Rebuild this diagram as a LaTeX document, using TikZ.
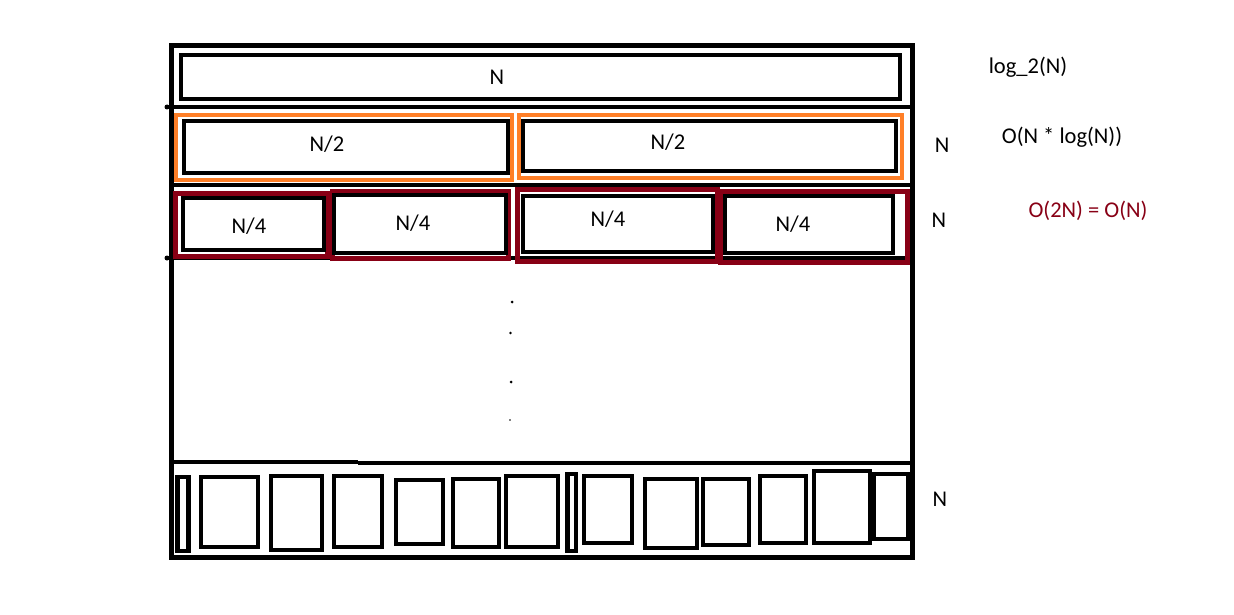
\documentclass[tikz,border=0pt]{standalone}
\usepackage{fontspec}
\setmainfont{Carlito}
\usetikzlibrary{fit}
\definecolor{paintorange}{HTML}{FF7F27}
\definecolor{paintred}{HTML}{880015}
\begin{document}
\begin{tikzpicture}[x=1pt,y=-1pt,
  blk/.style={draw=black,line width=4.5pt,inner sep=0pt},
  org/.style={draw=paintorange,line width=4pt,inner sep=0pt},
  drd/.style={draw=paintred,line width=5pt,inner sep=0pt},
  divider/.style={draw=black,line width=4pt},
  lbl/.style={font=\fontsize{22.5}{27}\selectfont,inner sep=0pt},
  dotmark/.style={fill=black}]
\useasboundingbox (0,0) rectangle (1234,615);
% outer frame
\node[blk,fit={(171.5,45.5) (912.5,557.5)}] (frame) {};
% dividers
\coordinate (d1l) at (167,107); \coordinate (d1r) at (912.5,107);
\coordinate (d2l) at (171.5,185); \coordinate (d2r) at (912.5,185);
\coordinate (d3l) at (167,258); \coordinate (d3r) at (912.5,258);
\coordinate (d4l) at (171.5,461.5); \coordinate (d4m) at (358,461.5);
\coordinate (d4n) at (358,462.5); \coordinate (d4r) at (912.5,462.5);
\draw[divider] (d1l) -- (d1r);
\draw[divider] (d2l) -- (d2r);
\draw[divider] (d3l) -- (d3r);
\draw[divider] (d4l) -- (d4m);
\draw[divider] (d4n) -- (d4r);
\fill (d1l) circle (2.5pt);
\fill (d3l) circle (2.5pt);
% row 1
\node[blk,fit={(181,55) (900,99)}] (r1) {};
\node[lbl] (r1t) at (497,77.5) {N};
% row 2
\node[org,fit={(176,115) (512,180)}] (o1) {};
\node[org,fit={(519,115) (902,178)}] (o2) {};
\node[blk,fit={(184,121) (508,173)}] (h1) {};
\node[blk,fit={(523,121) (896,171)}] (h2) {};
\node[lbl] (h1t) at (327,144) {N/2};
\node[lbl] (h2t) at (668,142.5) {N/2};
% row 3
\node[drd,fit={(175.5,193) (327.5,256)}] (q1o) {};
\node[drd,fit={(332,191) (508,258)}] (q2o) {};
\node[drd,fit={(517,189) (717,261)}] (q3o) {};
\node[drd,fit={(720,191) (907,262)}] (q4o) {};
\node[blk,fit={(183,198) (324,250)}] (q1) {};
\node[blk,fit={(334,195) (506,253)}] (q2) {};
\node[blk,fit={(523,196) (713,252)}] (q3) {};
\node[blk,fit={(725,196) (893,253)}] (q4) {};
\node[lbl] (q1t) at (249,226) {N/4};
\node[lbl] (q2t) at (413,223) {N/4};
\node[lbl] (q3t) at (608,219) {N/4};
\node[lbl] (q4t) at (793,224) {N/4};
% dots
\fill[dotmark] (512,302) circle (1.5pt);
\fill[dotmark] (510.5,333) circle (1.3pt);
\fill[dotmark] (511,382) circle (1.5pt);
\fill[dotmark] (510,420) circle (0.8pt);
% bottom row
\node[blk,fit={(177.5,477) (188.5,551)}] (b1) {};
\node[blk,fit={(201,477) (258,547)}] (b2) {};
\node[blk,fit={(271,476) (322,550)}] (b3) {};
\node[blk,fit={(334,476) (382,547)}] (b4) {};
\node[blk,fit={(396,480) (443,544)}] (b5) {};
\node[blk,fit={(453,479) (499,547)}] (b6) {};
\node[blk,fit={(506,476) (558,547)}] (b7) {};
\node[blk,fit={(567.5,474) (576,551)}] (b8) {};
\node[blk,fit={(584,476) (632,543)}] (b9) {};
\node[blk,fit={(645,479) (697,548)}] (b10) {};
\node[blk,fit={(703,479) (749,545)}] (b11) {};
\node[blk,fit={(760,476) (806,543)}] (b12) {};
\node[blk,fit={(814,471) (870,543)}] (b13) {};
\node[blk,fit={(874,474) (908,539)}] (b14) {};
% right labels
\node[lbl] (l1) at (1028,67) {log\_2(N)};
\node[lbl] (l2a) at (942,145) {N};
\node[lbl] (l2b) at (1062,137) {O(N * log(N))};
\node[lbl] (l3a) at (939,220) {N};
\node[lbl,text=paintred] (l3b) at (1088,211) {O(2N) = O(N)};
\node[lbl] (l4) at (940,499) {N};
\end{tikzpicture}
\end{document}
